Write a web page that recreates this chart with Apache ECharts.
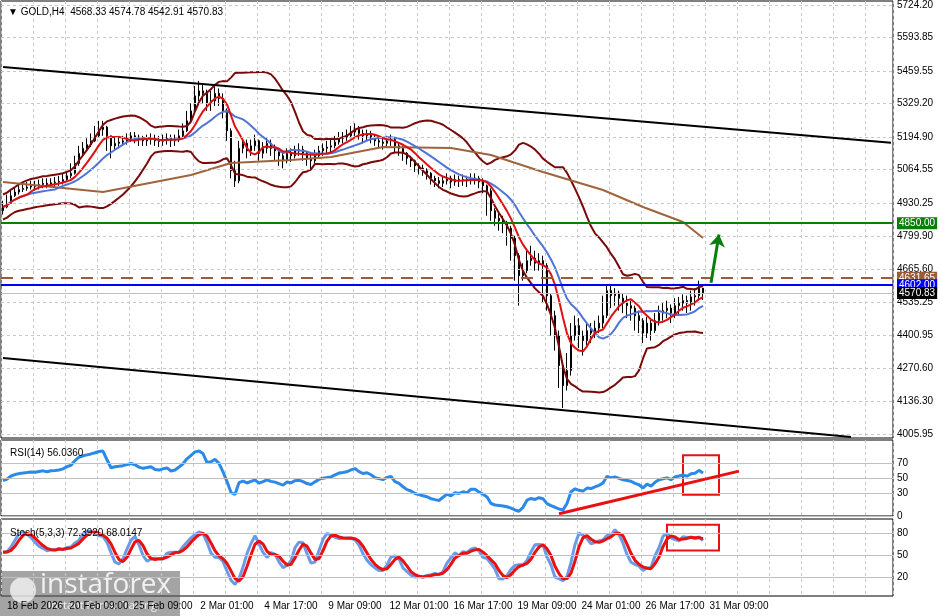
<!DOCTYPE html>
<html>
<head>
<meta charset="utf-8">
<script src="https://cdn.jsdelivr.net/npm/echarts@6/dist/echarts.min.js"></script>
<style>html,body{margin:0;padding:0;background:#fff}#main{width:940px;height:616px}</style>
</head>
<body>
<div id="main"></div>
<script>
// 收盘价 / 最高 / 最低 (H4, 每根约4px)
var closes = [4915,4930,4960,4975,4985, 4990,4995,5000,4998,5005, 5010,5005,5012,5015,5018, 5025,5040,5050,5090,5130,
  5150,5165,5180,5200,5225, 5235,5200,5160,5170,5175, 5180,5190,5200,5195,5185, 5180,5185,5190,5180,5178,
  5185,5190,5180,5185,5200, 5220,5260,5300,5360,5380, 5370,5330,5340,5370,5350, 5300,5220,5060,5020,5150,
  5170,5140,5160,5180,5130, 5150,5170,5150,5140,5120, 5100,5130,5120,5140,5145, 5130,5110,5100,5120,5140,
  5150,5155,5160,5175,5190, 5195,5200,5215,5225,5210, 5200,5205,5195,5180,5175, 5170,5180,5185,5160,5150,
  5130,5110,5100,5080,5070, 5060,5050,5030,5020,5010, 5020,5030,5015,5025,5020, 5025,5020,5030,5030,5015,
  5000,4980,4900,4870,4860, 4850,4830,4790,4720,4640, 4660,4700,4710,4690,4700, 4680,4560,4480,4400,4280,
  4200,4260,4400,4440,4400, 4380,4420,4410,4430,4450, 4480,4580,4560,4570,4550, 4530,4520,4510,4480,4460,
  4410,4450,4420,4460,4490, 4500,4510,4490,4520,4530, 4540,4530,4555,4560,4590, 4570.83]
var highs = [4940,4965,4985,4995,5005, 5010,5015,5020,5020,5025, 5030,5030,5030,5035,5040, 5050,5060,5090,5120,5160,
  5175,5190,5210,5240,5260, 5260,5240,5190,5195,5200, 5200,5210,5215,5215,5205, 5200,5205,5210,5205,5200,
  5205,5210,5205,5205,5225, 5250,5300,5330,5400,5420, 5410,5385,5380,5400,5390, 5370,5310,5230,5100,5180,
  5195,5185,5185,5205,5185, 5175,5195,5185,5165,5150, 5135,5150,5150,5160,5170, 5160,5140,5125,5145,5160,
  5170,5180,5185,5200,5215, 5215,5225,5240,5250,5240, 5225,5225,5220,5205,5195, 5190,5200,5205,5195,5175,
  5160,5135,5120,5105,5090, 5085,5070,5055,5040,5035, 5040,5050,5040,5045,5040, 5045,5040,5050,5050,5040,
  5030,5005,4990,4910,4890, 4880,4860,4840,4800,4730, 4690,4740,4760,4740,4730, 4720,4690,4570,4500,4420,
  4300,4330,4450,4480,4470, 4420,4450,4450,4460,4480, 4560,4600,4600,4590,4580, 4570,4560,4540,4520,4500,
  4470,4475,4470,4490,4520, 4530,4540,4525,4550,4555, 4565,4560,4580,4590,4620, 4574.78]
var lows = [4885,4910,4935,4955,4965, 4975,4980,4985,4980,4985, 4990,4990,4995,4995,5000, 5005,5020,5030,5045,5080,
  5120,5140,5155,5175,5195, 5200,5140,5110,5140,5150, 5160,5165,5175,5170,5160, 5160,5160,5165,5160,5155,
  5160,5165,5155,5160,5175, 5195,5215,5250,5290,5340, 5330,5300,5300,5320,5320, 5270,5180,5030,4995,5010,
  5130,5110,5120,5140,5100, 5110,5130,5120,5100,5080, 5070,5090,5095,5110,5120, 5100,5080,5060,5090,5110,
  5120,5130,5135,5150,5165, 5170,5180,5190,5200,5185, 5170,5180,5170,5160,5150, 5145,5155,5160,5135,5120,
  5100,5085,5075,5055,5045, 5040,5025,5005,4995,4990, 4995,5005,4990,5000,4995, 5000,4995,5005,5005,4990,
  4970,4880,4860,4840,4820, 4810,4760,4700,4620,4520, 4620,4650,4680,4660,4660, 4530,4500,4400,4340,4190,
  4110,4180,4240,4380,4350, 4320,4360,4370,4390,4410, 4430,4470,4510,4520,4500, 4490,4470,4460,4420,4410,
  4370,4390,4380,4410,4440, 4460,4470,4450,4470,4480, 4500,4490,4500,4520,4540, 4542.91]
var firstOpen = 4900
// 长周期均线(棕色), 按读图取点
var brownIdx = [0,25,47,57,72,82,95,112,122,135,150,160,170,175]
var brownVal = [5015,4975,5043,5091,5103,5115,5155,5151,5123,5055,4983,4915,4855,4791]
// 时间轴标签
var tickIdx = [8,24,40,56,72,88,104,120,136,152,168,184]
var tickText = ['18 Feb 2026','20 Feb 09:00','25 Feb 09:00','2 Mar 01:00','4 Mar 17:00','9 Mar 09:00',
  '12 Mar 01:00','16 Mar 17:00','19 Mar 09:00','24 Mar 01:00','26 Mar 17:00','31 Mar 09:00']
var priceTicks = ['5724.20','5593.85','5459.55','5329.20','5194.90','5064.55','4930.25','4799.90',
  '4665.60','4535.25','4400.95','4270.60','4136.30','4005.95']
var rsiTicks = [70,50,30,0]
var stochTicks = [80,50,20]
var N = 223

var cats = []
for (var i = 0; i < N; i++) cats.push(String(i))
var candles = closes.map(function(c, i){
  var o = i == 0 ? firstOpen : closes[i-1]
  return [o, c, lows[i], highs[i]]
})
function sma(arr, n){
  return arr.map(function(v, i){
    var s = 0, k = 0
    for (var j = Math.max(0, i-n+1); j <= i; j++){ s += arr[j]; k++ }
    return +(s/k).toFixed(2)
  })
}
var maRed = sma(closes, 7)
var maBlue = sma(closes, 14)
var mid = sma(closes, 20)
var bbUp = [], bbDn = []
closes.forEach(function(v, i){
  var a = Math.max(0, i-19), s = 0, k = 0
  for (var j = a; j <= i; j++){ s += Math.pow(closes[j]-mid[i], 2); k++ }
  var sd = Math.max(Math.sqrt(s/k), 25)
  bbUp.push(+(mid[i]+2*sd).toFixed(2)); bbDn.push(+(mid[i]-2*sd).toFixed(2))
})
var brown = new Array(closes.length).fill(null)
brownIdx.forEach(function(ix, k){ brown[ix] = brownVal[k] })
// RSI(14), 起始平均涨跌幅取近似值
var ag = 13, al = 15
var rsi = [+(100-100/(1+ag/al)).toFixed(2)]
for (var i = 1; i < closes.length; i++){
  var d = closes[i]-closes[i-1], g = Math.max(d,0), l = Math.max(-d,0)
  ag = (ag*13+g)/14; al = (al*13+l)/14
  rsi.push(al == 0 ? 100 : +(100-100/(1+ag/al)).toFixed(2))
}
// Stoch(5,3,3)
var raw = closes.map(function(c, i){
  var hh = -1e9, ll = 1e9
  for (var j = Math.max(0,i-4); j <= i; j++){ hh = Math.max(hh, highs[j]); ll = Math.min(ll, lows[j]) }
  return hh == ll ? 50 : (c-ll)/(hh-ll)*100
})
var stK = sma(raw, 3), stD = sma(stK, 3)

var font = 'Liberation Sans'
var chart = echarts.init(document.getElementById('main'))
var gridLines = priceTicks.map(function(t){ return {yAxis: +t, label: {formatter: t}} })
function lineSeries(data, color, w, xi){
  return {type: 'line', data: data, xAxisIndex: xi||0, yAxisIndex: xi||0, symbol: 'none', silent: true,
    lineStyle: {color: color, width: w}, connectNulls: true, animation: false}
}
function tag(val, txt, bg, color, dash){
  return {yAxis: val, lineStyle: {color: color, type: dash || 'solid', width: 2},
    label: {formatter: txt, backgroundColor: bg, color: '#fff', padding: [1,2], fontSize: 10, fontFamily: font}}
}
var xAx = function(gi, showLabel){
  return {type: 'category', data: cats, gridIndex: gi, boundaryGap: true,
    axisLine: {show: false}, axisTick: {show: false},
    axisLabel: {show: showLabel, fontSize: 10, fontFamily: font, color: '#000', margin: 5, hideOverlap: false,
      interval: function(i){ return tickIdx.indexOf(i) >= 0 },
      formatter: function(v, i){ var k = tickIdx.indexOf(+v); return k >= 0 ? tickText[k] : '' }},
    splitLine: {show: true, interval: function(i){ return i % 8 == 0 }, lineStyle: {color: '#c8c8c8', type: [3,3]}}}
}
var yHidden = function(gi, min, max){
  return {type: 'value', gridIndex: gi, min: min, max: max, axisLabel: {show: false},
    axisLine: {show: false}, axisTick: {show: false}, splitLine: {show: false}}
}
var ts = {fontSize: 10, fontWeight: 'normal', fontFamily: font, color: '#000'}
var option = {
  animation: false,
  backgroundColor: '#fff',
  title: [
    {text: '▼ GOLD,H4  4568.33 4574.78 4542.91 4570.83', left: 3, top: 2, textStyle: ts},
    {text: 'RSI(14) 56.0360', left: 5, top: 443, textStyle: ts},
    {text: 'Stoch(5,3,3) 72.3920 68.0147', left: 5, top: 523, textStyle: ts}
  ],
  grid: [
    {left: 1, right: 47, top: 1, height: 437, show: true, borderColor: '#000', borderWidth: 1},
    {left: 1, right: 47, top: 440, height: 76, show: true, borderColor: '#000', borderWidth: 1},
    {left: 1, right: 47, top: 519, height: 77, show: true, borderColor: '#000', borderWidth: 1}
  ],
  xAxis: [xAx(0, false), xAx(1, false), xAx(2, true)],
  yAxis: [yHidden(0, 3990, 5740), yHidden(1, 0, 100), yHidden(2, -5, 100)],
  series: [
    {type: 'candlestick', data: candles, barMaxWidth: 3, silent: true,
      itemStyle: {color: '#fff', color0: '#000', borderColor: '#000', borderColor0: '#000', borderWidth: 1},
      markLine: {silent: true, symbol: 'none', animation: false,
        label: {position: 'end', fontSize: 10, fontFamily: font, color: '#000', distance: 4},
        lineStyle: {color: '#c8c8c8', type: [3,3], width: 1},
        data: gridLines.concat([
          tag(4850, '4850.00', '#0a7d0a', '#0a7d0a'),
          tag(4631.65, '4631.65', '#9a5a3c', '#9a5a3c', [12,8]),
          tag(4602, '4602.00', '#0000ff', '#0000ff'),
          {yAxis: 4570.83, lineStyle: {color: '#c0c0c0', width: 1, type: 'solid'},
            label: {formatter: '4570.83', backgroundColor: '#000', color: '#fff', padding: [1,2], fontSize: 10, fontFamily: font}},
          [{coord: ['0', 5476], lineStyle: {color: '#000', width: 2, type: 'solid'}, label: {show: false}}, {coord: ['222', 5172]}],
          [{coord: ['0', 4310], lineStyle: {color: '#000', width: 2, type: 'solid'}, label: {show: false}}, {coord: ['212', 3994]}],
          [{coord: ['177', 4612], symbol: 'none', lineStyle: {color: '#0a7d0a', width: 3, type: 'solid'}, label: {show: false}},
           {coord: ['179', 4805], symbol: 'arrow', symbolSize: 12}]
        ])}},
    lineSeries(bbUp, '#7a0a0a', 2),
    lineSeries(bbDn, '#7a0a0a', 2),
    lineSeries(brown, '#a0643c', 2),
    lineSeries(maBlue, '#4f74d6', 2),
    lineSeries(maRed, '#e01010', 2),
    {type: 'line', data: rsi, xAxisIndex: 1, yAxisIndex: 1, symbol: 'none', silent: true,
      lineStyle: {color: '#2b8ae8', width: 3},
      markLine: {silent: true, symbol: 'none', label: {position: 'end', fontSize: 10, fontFamily: font, color: '#000', distance: 4},
        lineStyle: {color: '#c0c0c0', type: 'solid', width: 1},
        data: rsiTicks.map(function(v){ return {yAxis: v} }).concat([
          [{coord: ['139', 3], lineStyle: {color: '#e81010', width: 3}, label: {show: false}}, {coord: ['184', 59]}]
        ])},
      markArea: {silent: true, itemStyle: {color: 'rgba(0,0,0,0)', borderColor: '#e81010', borderWidth: 2},
        data: [[{coord: ['170', 80]}, {coord: ['179', 28]}]]}},
    {type: 'line', data: stK, xAxisIndex: 2, yAxisIndex: 2, symbol: 'none', silent: true,
      lineStyle: {color: '#6a9be6', width: 3},
      markLine: {silent: true, symbol: 'none', label: {position: 'end', fontSize: 10, fontFamily: font, color: '#000', distance: 4},
        lineStyle: {color: '#c0c0c0', type: 'solid', width: 1},
        data: stochTicks.map(function(v){ return {yAxis: v} })},
      markArea: {silent: true, itemStyle: {color: 'rgba(0,0,0,0)', borderColor: '#e81010', borderWidth: 2},
        data: [[{coord: ['166', 92]}, {coord: ['179', 57]}]]}},
    {type: 'line', data: stD, xAxisIndex: 2, yAxisIndex: 2, symbol: 'none', silent: true,
      lineStyle: {color: '#e81010', width: 3}}
  ],
  graphic: [
    {type: 'rect', left: 0, top: 571, shape: {width: 180, height: 45}, style: {fill: 'rgba(90,90,90,0.55)'}},
    {type: 'text', left: 40, top: 571, style: {text: 'instaforex', fill: 'rgba(255,255,255,0.85)', font: '28px "Open Sans"'}},
    {type: 'text', left: 48, top: 600, style: {text: 'Instant Forex Trading', fill: 'rgba(255,255,255,0.85)', font: '11px "Open Sans"'}},
    {type: 'circle', left: 10, top: 577, shape: {r: 13}, style: {fill: 'rgba(255,255,255,0.7)'}}
  ]
}
chart.setOption(option)
</script>
</body>
</html>
